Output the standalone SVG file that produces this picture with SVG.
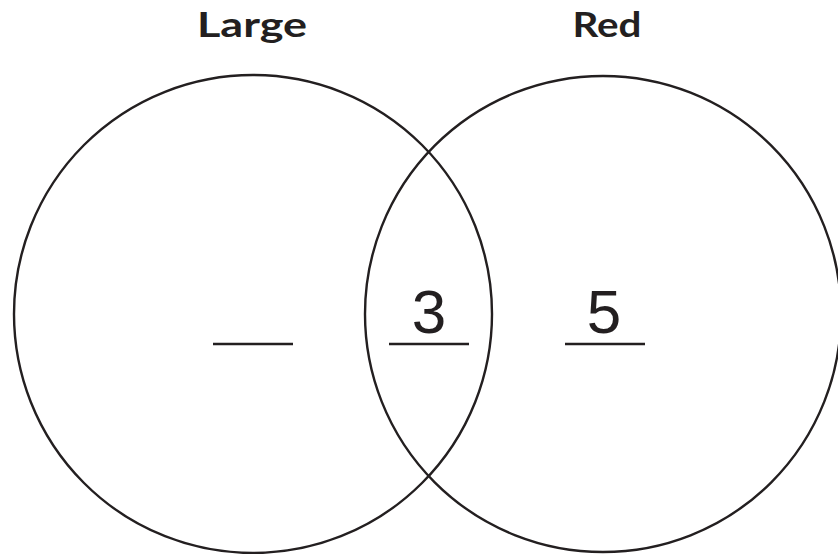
<svg xmlns="http://www.w3.org/2000/svg" width="838" height="554" viewBox="0 0 838 554">
<style>
.c{fill:none;stroke:#231f20;stroke-width:2.4}
.l{stroke:#231f20;stroke-width:2.4}
.h{font-family:"Lato","Open Sans","Liberation Sans",sans-serif;font-weight:700;font-size:34px;fill:#231f20;text-anchor:middle}
.n{font-family:"Liberation Sans",Arial,sans-serif;font-size:62px;fill:#231f20;text-anchor:middle}
</style>
<rect width="838" height="554" fill="#fff"/>
<g id="large">
<circle class="c" cx="253" cy="314" r="239"/>
<text class="h" x="252" y="37" textLength="110" lengthAdjust="spacingAndGlyphs">Large</text>
<line class="l" x1="213" y1="344" x2="293" y2="344"/>
</g>
<g id="red">
<circle class="c" cx="603" cy="314" r="238"/>
<text class="h" x="607" y="37" textLength="69" lengthAdjust="spacingAndGlyphs">Red</text>
<text class="n" x="604" y="333">5</text>
<line class="l" x1="565" y1="344" x2="645" y2="344"/>
</g>
<g id="both">
<text class="n" x="429" y="333">3</text>
<line class="l" x1="389" y1="344" x2="469" y2="344"/>
</g>
</svg>
